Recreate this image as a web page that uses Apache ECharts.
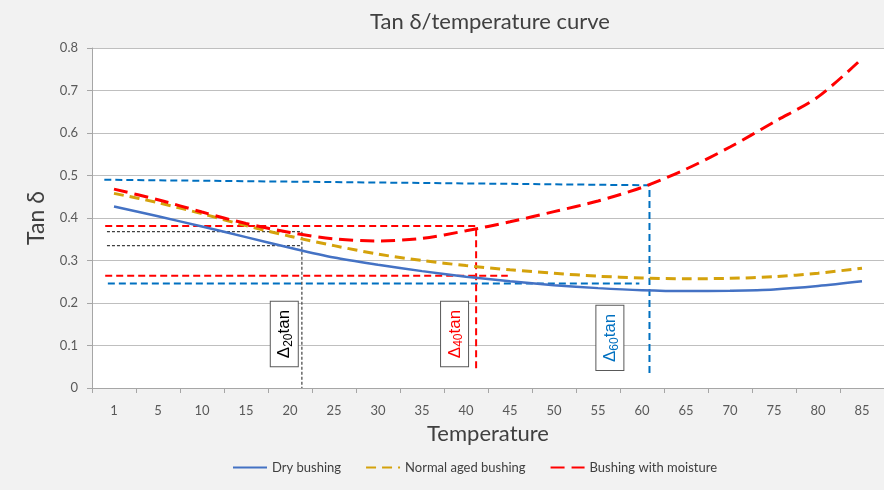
<!DOCTYPE html>
<html>
<head>
<meta charset="utf-8">
<script src="https://cdn.jsdelivr.net/npm/echarts@6/dist/echarts.min.js"></script>
<style>
html,body{margin:0;padding:0;background:#F2F2F2;}
#chart{width:884px;height:490px;}
</style>
</head>
<body>
<div id="chart"></div>
<script>
// ---- data ----
const categories = ['1','5','10','15','20','25','30','35','40','45','50','55','60','65','70','75','80','85'];
const dryBushing   = [0.427,0.404,0.380,0.355,0.330,0.307,0.290,0.275,0.262,0.251,0.242,0.235,0.230,0.228,0.229,0.232,0.240,0.251];
const normalAged   = [0.458,0.436,0.410,0.382,0.357,0.335,0.315,0.300,0.288,0.278,0.270,0.263,0.259,0.257,0.258,0.262,0.270,0.282];
const moisture     = [0.468,0.443,0.414,0.387,0.366,0.351,0.346,0.352,0.370,0.391,0.415,0.440,0.472,0.515,0.567,0.626,0.685,0.775];
const seriesNames  = ['Dry bushing','Normal aged bushing','Bushing with moisture'];
const yTicks       = [0,0.1,0.2,0.3,0.4,0.5,0.6,0.7,0.8];

// guide lines, x in category-band units (0 = left edge of first band)
const guideBlueTop  = [[0.28,0.490],[12.67,0.477],[12.67,0.031]];
const guideBlueLow  = [[0.36,0.246],[12.44,0.246]];
const guideRedTop   = [[0.30,0.381],[8.73,0.381],[8.73,0.038]];
const guideRedLow   = [[0.30,0.264],[9.45,0.264]];
const guideGreyTop  = [[0.34,0.368],[4.77,0.368],[4.77,0.0]];
const guideGreyLow  = [[0.34,0.335],[4.77,0.335]];
// annotation boxes: [x, y, subscript, colour]
const deltaLabels = [
  [4.37,0.127,'20','#000000'],
  [8.24,0.127,'40','#FF0000'],
  [11.77,0.118,'60','#0070C0']
];

const FONT = 'Lato, "Open Sans", sans-serif';
const chart = echarts.init(document.getElementById('chart'), null, {renderer:'canvas'});

function guide(data, color, width, dash){
  return {
    type:'line', xAxisIndex:1, yAxisIndex:0, data:data, symbol:'none', silent:true,
    lineStyle:{color:color, width:width, type:dash}, z:1, animation:false
  };
}

const labelSeries = deltaLabels.map(function(d){
  return {
    type:'scatter', xAxisIndex:1, yAxisIndex:0, silent:true, animation:false,
    data:[[d[0],d[1]]], symbolSize:2, itemStyle:{color:'rgba(0,0,0,0)'}, z:5,
    labelLayout:{hideOverlap:false},
    label:{
      show:true, position:'inside', rotate:90, opacity:1,
      formatter:'{a|Δ}{b|' + d[2] + '}{a|tan}',
      backgroundColor:'#FFFFFF', borderColor:'#595959', borderWidth:1,
      padding:[4,8,3,8],
      rich:{
        a:{fontSize:17, color:d[3], fontFamily:'"Liberation Sans", Arial, sans-serif', lineHeight:20},
        b:{fontSize:12, color:d[3], fontFamily:'"Liberation Sans", Arial, sans-serif', verticalAlign:'bottom', padding:[6,0,0,0]}
      }
    }
  };
});

const option = {
  backgroundColor:'#F2F2F2',
  animation:false,
  title:{
    text:'Tan δ/temperature curve', left:485, top:6, textAlign:'center',
    textStyle:{fontFamily:FONT, fontSize:22, fontWeight:'normal', color:'#404040'}
  },
  legend:{
    data:seriesNames, left:227, top:456, itemWidth:34, itemHeight:10, itemGap:24,
    itemStyle:{opacity:0},
    textStyle:{fontFamily:FONT, fontSize:13, color:'#404040'}
  },
  grid:{left:92, right:-4, top:48, bottom:102, show:true, backgroundColor:'#FFFFFF', borderWidth:0},
  xAxis:[{
    type:'category', data:categories, boundaryGap:true,
    name:'Temperature', nameLocation:'middle', nameGap:35,
    nameTextStyle:{fontFamily:FONT, fontSize:22, color:'#404040'},
    axisLine:{lineStyle:{color:'#A6A6A6'}},
    axisTick:{show:true, length:5, lineStyle:{color:'#A6A6A6'}},
    axisLabel:{fontFamily:FONT, fontSize:13, color:'#595959', margin:16}
  },{
    type:'value', min:0, max:18, show:false
  }],
  yAxis:[{
    type:'value', min:0, max:0.8, interval:0.1,
    name:'Tan δ', nameLocation:'middle', nameGap:44,
    nameTextStyle:{fontFamily:FONT, fontSize:23, color:'#404040'},
    axisLine:{show:true, lineStyle:{color:'#A6A6A6'}},
    axisTick:{show:true, length:5, lineStyle:{color:'#A6A6A6'}},
    splitLine:{lineStyle:{color:'#BFBFBF'}},
    axisLabel:{fontFamily:FONT, fontSize:13, color:'#595959', margin:14,
      formatter:function(v){ return yTicks.indexOf(Math.round(v*10)/10) >= 0 ? String(Math.round(v*10)/10) : ''; }}
  }],
  series:[
    guide(guideBlueTop,'#0070C0',2,[7,4]),
    guide(guideBlueLow,'#0070C0',2,[7,4]),
    guide(guideRedTop,'#FF0000',2,[7,4]),
    guide(guideRedLow,'#FF0000',2,[7,4]),
    guide(guideGreyTop,'#404040',1.2,[3,2]),
    guide(guideGreyLow,'#404040',1.2,[3,2]),
    {name:seriesNames[0], type:'line', data:dryBushing, smooth:0.3, symbol:'none', z:3,
      lineStyle:{color:'#4472C4', width:2.5}, itemStyle:{color:'#4472C4'}},
    {name:seriesNames[1], type:'line', data:normalAged, smooth:0.3, symbol:'none', z:3,
      lineStyle:{color:'#D4A20C', width:3, type:[10,6]}, itemStyle:{color:'#D4A20C'}},
    {name:seriesNames[2], type:'line', data:moisture, smooth:0.3, symbol:'none', z:4,
      lineStyle:{color:'#FF0000', width:3, type:[14,7]}, itemStyle:{color:'#FF0000'}}
  ].concat(labelSeries)
};
chart.setOption(option);
</script>
</body>
</html>
